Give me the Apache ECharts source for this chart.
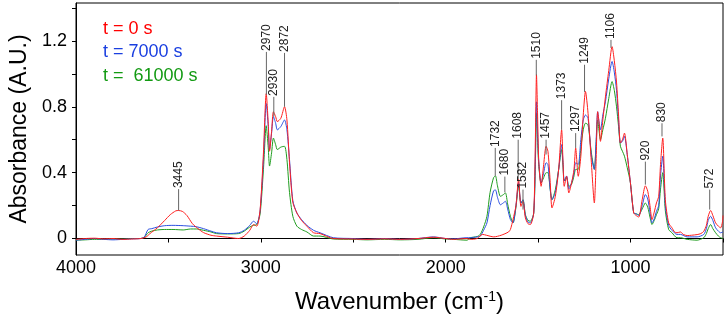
<!DOCTYPE html>
<html>
<head>
<meta charset="utf-8">
<title>FTIR spectra</title>
<script src="https://cdn.jsdelivr.net/npm/echarts@6/dist/echarts.min.js"></script>
<style>
  html, body { margin: 0; padding: 0; background: #fff; }
  #chart { width: 726px; height: 314px; }
</style>
</head>
<body>
<div id="chart"></div>
<script>
// [wavenumber, absorbance]
const t0Spectrum = [
  [4000, -0.005], [3950, 0.0], [3900, 0.002], [3850, -0.002], [3800, 0.0], [3745, -0.005], [3700, -0.003],
  [3650, 0.0], [3620, 0.01], [3600, 0.03], [3560, 0.065], [3520, 0.11], [3490, 0.145], [3460, 0.168],
  [3446, 0.17], [3425, 0.165], [3400, 0.14], [3370, 0.09], [3340, 0.06], [3310, 0.036], [3270, 0.02],
  [3240, 0.015], [3180, 0.008], [3120, 0.0], [3090, 0.015], [3060, 0.05], [3040, 0.085], [3022, 0.075],
  [3004, 0.175], [2986, 0.52], [2971, 0.88], [2960, 0.70], [2953, 0.53], [2942, 0.65], [2932, 0.77],
  [2920, 0.74], [2911, 0.71], [2892, 0.73], [2872, 0.80], [2859, 0.72], [2845, 0.46], [2827, 0.22],
  [2805, 0.155], [2780, 0.11], [2751, 0.075], [2715, 0.035], [2680, 0.03], [2608, 0.0], [2500, -0.003],
  [2426, -0.005], [2330, -0.002], [2246, -0.005], [2150, 0.0], [2066, 0.008], [2000, 0.0], [1959, -0.005],
  [1885, 0.0], [1867, -0.005], [1830, 0.0], [1800, 0.025], [1780, 0.02], [1740, 0.01], [1700, 0.02],
  [1660, 0.04], [1650, 0.055], [1636, 0.115], [1620, 0.2], [1606, 0.36], [1593, 0.195], [1582, 0.225],
  [1569, 0.125], [1555, 0.09], [1542, 0.085], [1524, 0.155], [1515, 0.6], [1509, 0.995], [1503, 0.75],
  [1497, 0.48], [1484, 0.317], [1470, 0.45], [1457, 0.56], [1447, 0.53], [1435, 0.35], [1425, 0.186],
  [1407, 0.256], [1389, 0.42], [1373, 0.66], [1365, 0.45], [1359, 0.317], [1346, 0.378], [1334, 0.277],
  [1319, 0.338], [1306, 0.42], [1297, 0.55], [1283, 0.378], [1269, 0.50], [1256, 0.75], [1244, 0.893],
  [1230, 0.76], [1212, 0.46], [1196, 0.216], [1187, 0.45], [1178, 0.77], [1170, 0.70], [1163, 0.59],
  [1150, 0.72], [1136, 0.86], [1118, 1.02], [1100, 1.165], [1088, 1.08], [1076, 0.95], [1065, 0.75],
  [1055, 0.58], [1044, 0.60], [1033, 0.64], [1018, 0.51], [1001, 0.34], [983, 0.155], [970, 0.14],
  [956, 0.13], [937, 0.236], [920, 0.32], [907, 0.287], [895, 0.2], [884, 0.115], [872, 0.16],
  [860, 0.216], [848, 0.256], [838, 0.45], [826, 0.61], [812, 0.236], [794, 0.095], [776, 0.065],
  [762, 0.04], [749, 0.035], [730, 0.04], [715, 0.025], [694, 0.018], [670, 0.02], [640, 0.024],
  [620, 0.03], [604, 0.044], [590, 0.08], [580, 0.135], [567, 0.17], [555, 0.14], [540, 0.095],
  [525, 0.075], [513, 0.065], [503, 0.1], [500, 0.14]
];
const t7000Spectrum = [
  [4000, -0.01], [3950, -0.005], [3900, 0.0], [3850, -0.005], [3800, -0.008], [3745, -0.005], [3700, -0.002],
  [3650, 0.0], [3630, 0.01], [3610, 0.055], [3590, 0.06], [3560, 0.07], [3520, 0.078], [3475, 0.08],
  [3420, 0.078], [3380, 0.075], [3350, 0.072], [3310, 0.06], [3270, 0.045], [3240, 0.035], [3180, 0.03],
  [3120, 0.035], [3090, 0.05], [3060, 0.08], [3040, 0.105], [3022, 0.09], [3004, 0.17], [2986, 0.48],
  [2971, 0.82], [2960, 0.68], [2953, 0.54], [2942, 0.64], [2932, 0.74], [2920, 0.70], [2911, 0.66],
  [2892, 0.68], [2872, 0.72], [2859, 0.66], [2845, 0.48], [2827, 0.23], [2805, 0.155], [2780, 0.115],
  [2751, 0.08], [2715, 0.05], [2680, 0.035], [2608, 0.005], [2500, 0.0], [2426, -0.005], [2330, 0.0],
  [2246, -0.005], [2150, 0.0], [2066, 0.01], [2000, 0.0], [1959, -0.002], [1885, 0.005], [1867, 0.005],
  [1830, 0.01], [1813, 0.015], [1795, 0.05], [1777, 0.095], [1760, 0.2], [1741, 0.29], [1731, 0.295],
  [1720, 0.25], [1704, 0.205], [1690, 0.215], [1677, 0.226], [1665, 0.18], [1650, 0.115], [1636, 0.095],
  [1620, 0.2], [1606, 0.34], [1593, 0.215], [1582, 0.235], [1569, 0.14], [1555, 0.1], [1542, 0.095],
  [1524, 0.155], [1515, 0.5], [1509, 0.83], [1503, 0.65], [1497, 0.47], [1484, 0.337], [1470, 0.40],
  [1457, 0.46], [1447, 0.45], [1435, 0.30], [1425, 0.236], [1407, 0.28], [1389, 0.42], [1373, 0.57],
  [1365, 0.45], [1359, 0.35], [1346, 0.38], [1334, 0.30], [1319, 0.34], [1306, 0.40], [1297, 0.46],
  [1283, 0.45], [1269, 0.60], [1256, 0.72], [1244, 0.75], [1230, 0.73], [1212, 0.50], [1196, 0.42],
  [1187, 0.58], [1178, 0.77], [1170, 0.70], [1163, 0.66], [1150, 0.75], [1136, 0.83], [1118, 0.97],
  [1100, 1.075], [1088, 1.01], [1076, 0.90], [1065, 0.72], [1055, 0.58], [1044, 0.59], [1033, 0.62],
  [1018, 0.51], [1001, 0.34], [983, 0.155], [970, 0.15], [956, 0.14], [937, 0.2], [920, 0.267],
  [907, 0.24], [895, 0.16], [884, 0.095], [872, 0.12], [860, 0.165], [848, 0.2], [838, 0.38],
  [826, 0.50], [812, 0.2], [794, 0.08], [776, 0.05], [749, 0.025], [730, 0.025], [694, 0.01],
  [640, 0.01], [604, 0.025], [590, 0.06], [580, 0.11], [567, 0.135], [555, 0.11], [540, 0.065],
  [525, 0.045], [513, 0.035], [500, 0.04]
];
const t61000Spectrum = [
  [4000, -0.01], [3950, -0.008], [3900, -0.005], [3850, -0.005], [3800, -0.003], [3745, -0.003], [3700, 0.0],
  [3650, 0.0], [3630, 0.008], [3610, 0.035], [3590, 0.045], [3560, 0.052], [3520, 0.055], [3475, 0.055],
  [3420, 0.052], [3380, 0.058], [3350, 0.058], [3310, 0.05], [3270, 0.04], [3240, 0.03], [3180, 0.028],
  [3120, 0.03], [3090, 0.045], [3060, 0.07], [3040, 0.08], [3022, 0.085], [3004, 0.15], [2986, 0.42],
  [2971, 0.685], [2960, 0.55], [2953, 0.44], [2942, 0.52], [2932, 0.61], [2920, 0.57], [2911, 0.54],
  [2892, 0.555], [2872, 0.56], [2859, 0.48], [2845, 0.28], [2827, 0.135], [2805, 0.075], [2780, 0.055],
  [2751, 0.04], [2715, 0.015], [2680, 0.015], [2608, -0.003], [2500, -0.005], [2426, -0.008], [2330, -0.005],
  [2246, -0.008], [2150, -0.005], [2066, 0.005], [2000, -0.003], [1959, -0.005], [1885, -0.01], [1867, 0.005],
  [1830, 0.012], [1813, 0.025], [1795, 0.07], [1777, 0.135], [1760, 0.28], [1741, 0.37], [1731, 0.38],
  [1720, 0.32], [1704, 0.256], [1690, 0.265], [1677, 0.277], [1665, 0.21], [1650, 0.135], [1636, 0.095],
  [1620, 0.19], [1606, 0.32], [1593, 0.215], [1582, 0.235], [1569, 0.145], [1555, 0.11], [1542, 0.105],
  [1524, 0.155], [1515, 0.45], [1509, 0.76], [1503, 0.6], [1497, 0.45], [1484, 0.337], [1470, 0.37],
  [1457, 0.40], [1447, 0.40], [1435, 0.30], [1425, 0.236], [1407, 0.297], [1389, 0.42], [1373, 0.54],
  [1365, 0.43], [1359, 0.35], [1346, 0.37], [1334, 0.317], [1319, 0.33], [1306, 0.38], [1297, 0.42],
  [1283, 0.42], [1269, 0.55], [1256, 0.66], [1244, 0.70], [1230, 0.69], [1212, 0.52], [1196, 0.42],
  [1187, 0.56], [1178, 0.72], [1170, 0.65], [1163, 0.60], [1150, 0.66], [1136, 0.73], [1118, 0.85],
  [1100, 0.953], [1088, 0.90], [1076, 0.80], [1065, 0.68], [1055, 0.56], [1044, 0.53], [1033, 0.50],
  [1018, 0.43], [1001, 0.34], [983, 0.155], [970, 0.15], [956, 0.145], [937, 0.18], [920, 0.216],
  [907, 0.19], [895, 0.13], [884, 0.085], [872, 0.11], [860, 0.145], [848, 0.18], [838, 0.3],
  [826, 0.40], [812, 0.17], [794, 0.055], [776, 0.035], [749, 0.005], [730, 0.005], [694, -0.005],
  [640, -0.01], [604, 0.005], [590, 0.03], [580, 0.06], [567, 0.085], [555, 0.06], [540, 0.035],
  [525, 0.015], [513, 0.005], [500, 0.0]
];

// peak annotations: label, leader line bottom and top (absorbance)
const peakWn = [3445, 2970, 2930, 2872, 1732, 1680, 1608, 1582, 1510, 1457, 1373, 1297, 1249, 1106, 920, 830, 572];
const peakLow = [0.17, 0.873, 0.74, 0.80, 0.38, 0.28, 0.36, 0.176, 0.99, 0.51, 0.66, 0.55, 0.89, 1.157, 0.327, 0.62, 0.176];
const peakHigh = [0.30, 1.133, 0.86, 1.127, 0.55, 0.376, 0.60, 0.297, 1.085, 0.60, 0.84, 0.64, 1.055, 1.206, 0.467, 0.70, 0.297];

const seriesNames = ['t = 0 s', 't = 7000 s', 't =  61000 s'];
const seriesColors = ['#ff1f1f', '#2b4fe0', '#1f9c1f'];
const legendColors = ['#ff0000', '#1a3fe0', '#129a12'];

const xTicks = [4000, 3500, 3000, 2500, 2000, 1500, 1000, 500];
const xLabels = [4000, 3000, 2000, 1000];
const yTicks = [0, 0.2, 0.4, 0.6, 0.8, 1.0, 1.2, 1.4];
const yLabels = [0, 0.4, 0.8, 1.2];

const font = 'Arial, "Liberation Sans", sans-serif';
const chart = echarts.init(document.getElementById('chart'));

const spectra = [t0Spectrum, t7000Spectrum, t61000Spectrum];
const lineSeries = spectra.map((d, i) => ({
  name: seriesNames[i],
  type: 'line',
  data: d,
  showSymbol: false,
  smooth: 0.25,
  lineStyle: { width: 1, color: seriesColors[i] },
  itemStyle: { color: seriesColors[i] },
  z: 5 - i
}));

chart.setOption({
  animation: false,
  grid: {
    left: 76, right: 3, top: 3, bottom: 59,
    containLabel: false,
    outerBoundsMode: 'none',
    show: true, borderColor: '#000', borderWidth: 1
  },
  legend: {
    orient: 'vertical',
    left: 93,
    top: 15,
    itemWidth: 0,
    itemHeight: 0,
    itemGap: 5.5,
    icon: 'none',
    selectedMode: false,
    textStyle: { fontSize: 18, fontFamily: font },
    data: seriesNames.map((n, i) => ({ name: n, textStyle: { color: legendColors[i] } }))
  },
  xAxis: {
    type: 'value',
    inverse: true,
    min: 500,
    max: 4000,
    name: '{t|Wavenumber (cm}{s|-1}{t|)}',
    nameLocation: 'middle',
    nameGap: 35,
    nameTextStyle: {
      rich: {
        t: { fontSize: 24, fontFamily: font, color: '#000' },
        s: { fontSize: 14, fontFamily: font, color: '#000', verticalAlign: 'top', padding: [0, 0, 10, 0] }
      }
    },
    splitLine: { show: false },
    axisLine: { lineStyle: { color: '#000', width: 1 } },
    axisTick: { length: 4, lineStyle: { color: '#000' }, customValues: xTicks },
    axisLabel: {
      customValues: xLabels,
      fontSize: 18,
      fontFamily: font,
      color: '#000',
      margin: 4,
      formatter: v => String(v)
    }
  },
  yAxis: {
    type: 'value',
    min: -0.1,
    max: 1.43,
    name: 'Absorbance (A.U.)',
    nameLocation: 'middle',
    nameGap: 45,
    nameTextStyle: { fontSize: 23, fontFamily: font, color: '#000' },
    splitLine: { show: false },
    axisLine: { show: true, lineStyle: { color: '#000', width: 1 } },
    axisTick: { show: true, length: 4, lineStyle: { color: '#000' }, customValues: yTicks },
    axisLabel: {
      customValues: yLabels,
      fontSize: 18,
      fontFamily: font,
      color: '#000',
      margin: 9,
      formatter: v => (v === 0 ? '0' : v.toFixed(1))
    }
  },
  series: [
    ...lineSeries.slice().reverse(),
    {
      type: 'custom',
      silent: true,
      z: 10,
      encode: { x: 0, y: [1, 2] },
      data: peakWn.map((w, i) => [w, peakLow[i], peakHigh[i]]),
      renderItem: (params, api) => {
        const p0 = api.coord([api.value(0), api.value(1)]);
        const p1 = api.coord([api.value(0), api.value(2)]);
        return {
          type: 'group',
          children: [
            {
              type: 'line',
              shape: { x1: p0[0], y1: p0[1], x2: p1[0], y2: p1[1] },
              style: { stroke: '#666', lineWidth: 1 }
            },
            {
              type: 'text',
              x: p1[0],
              y: p1[1] - 1,
              rotation: Math.PI / 2,
              style: {
                text: String(api.value(0)),
                fontSize: 12,
                fontFamily: font,
                fill: '#222',
                align: 'left',
                verticalAlign: 'middle'
              }
            }
          ]
        };
      }
    }
  ]
});
</script>
</body>
</html>
